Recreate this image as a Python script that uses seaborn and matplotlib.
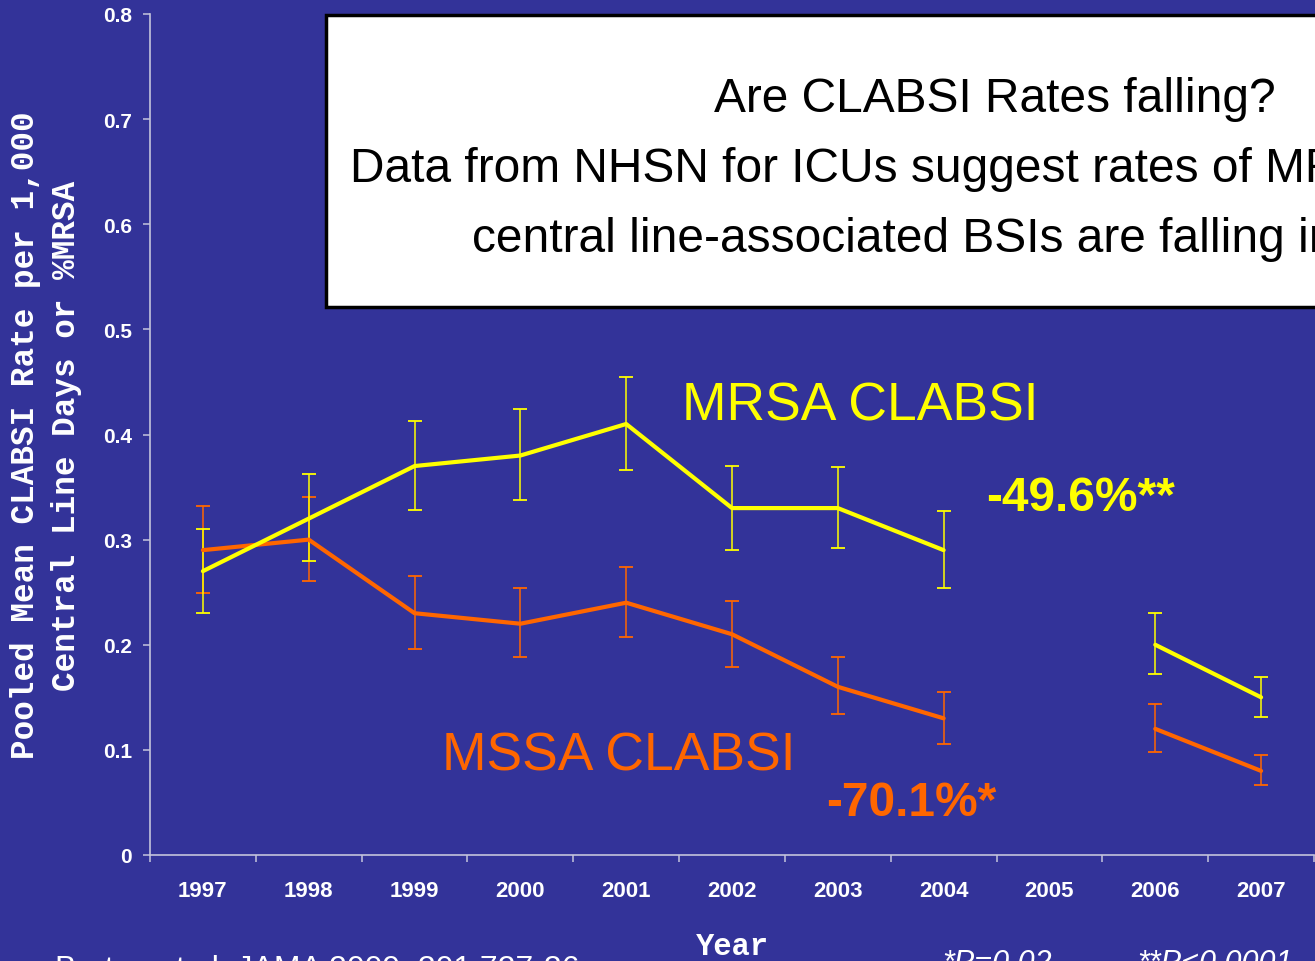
import numpy as np
import pandas as pd
import matplotlib
matplotlib.use("Agg")
import matplotlib.pyplot as plt
import seaborn as sns
from matplotlib.patches import Rectangle
from matplotlib.ticker import FixedLocator, FuncFormatter

# --- data ---
years = [1997, 1998, 1999, 2000, 2001, 2002, 2003, 2004, 2005, 2006, 2007]
mrsa = [0.27, 0.32, 0.37, 0.38, 0.41, 0.33, 0.33, 0.29, np.nan, 0.20, 0.15]
mrsa_lo = [0.230, 0.280, 0.328, 0.338, 0.366, 0.290, 0.292, 0.254, np.nan, 0.172, 0.131]
mrsa_hi = [0.310, 0.362, 0.413, 0.424, 0.455, 0.370, 0.369, 0.327, np.nan, 0.230, 0.169]
mssa = [0.29, 0.30, 0.23, 0.22, 0.24, 0.21, 0.16, 0.13, np.nan, 0.12, 0.08]
mssa_lo = [0.249, 0.261, 0.196, 0.188, 0.207, 0.179, 0.134, 0.106, np.nan, 0.098, 0.067]
mssa_hi = [0.332, 0.341, 0.265, 0.254, 0.274, 0.242, 0.188, 0.155, np.nan, 0.144, 0.095]
# 2005 missing -> two separate line pieces
segment = [0, 0, 0, 0, 0, 0, 0, 0, 0, 1, 1]

BG = "#333399"
YEL = "#FFFF00"
ORA = "#FF6600"
AXC = "#c4c4dc"
SANS = "Liberation Sans"
MONO = "Liberation Mono"

df = pd.concat([
    pd.DataFrame({"year": years, "rate": mssa, "series": "MSSA", "seg": segment}),
    pd.DataFrame({"year": years, "rate": mrsa, "series": "MRSA", "seg": segment}),
]).dropna()

sns.set_theme(style="ticks")
plt.rcParams["font.family"] = [SANS, "DejaVu Sans"]

fig = plt.figure(figsize=(13.15, 9.62), dpi=100, facecolor=BG)
ax = fig.add_axes([150 / 1315, 106 / 962, 1164 / 1315, 841 / 962])
ax.set_facecolor(BG)

sns.lineplot(data=df, x="year", y="rate", hue="series", units="seg",
             estimator=None, palette={"MSSA": ORA, "MRSA": YEL},
             hue_order=["MSSA", "MRSA"], linewidth=3, legend=False, ax=ax,
             zorder=3)

yr = np.array(years, dtype=float)
for vals, lo, hi, c in [(mssa, mssa_lo, mssa_hi, ORA), (mrsa, mrsa_lo, mrsa_hi, YEL)]:
    v = np.array(vals); l = np.array(lo); h = np.array(hi)
    ok = ~np.isnan(v)
    ax.errorbar(yr[ok], v[ok], yerr=[v[ok] - l[ok], h[ok] - v[ok]], fmt="none",
                ecolor=c, elinewidth=1.1, capsize=5, capthick=1.3, zorder=2)

ax.set_xlim(1996.5, 2007.5)
ax.set_ylim(0, 0.8)
ax.set_xticks(years)
ax.xaxis.set_minor_locator(FixedLocator(np.arange(1996.5, 2008, 1.0)))
ax.set_yticks(np.arange(0, 0.81, 0.1))
ax.yaxis.set_major_formatter(FuncFormatter(lambda v, p: "0" if abs(v) < 1e-9 else f"{v:.1f}"))

for s in ["top", "right"]:
    ax.spines[s].set_visible(False)
for s in ["left", "bottom"]:
    ax.spines[s].set_color(AXC)
    ax.spines[s].set_linewidth(1.2)

ax.tick_params(axis="x", which="major", length=0, pad=18, labelsize=16, labelcolor="white")
ax.tick_params(axis="x", which="minor", length=5, width=1.1, color=AXC, direction="out")
ax.tick_params(axis="y", length=5, width=1.1, color=AXC, direction="out", pad=8,
               labelsize=15, labelcolor="white")
for t in ax.get_xticklabels() + ax.get_yticklabels():
    t.set_fontweight("bold")

ax.set_xlabel("Year", fontfamily=MONO, fontweight="bold", fontsize=22, color="white")
ax.xaxis.label.set_va("baseline")
ax.xaxis.set_label_coords(0.5, (856 - 955) / 841)
ax.set_ylabel("Pooled Mean CLABSI Rate per 1,000\nCentral Line Days or %MRSA",
              fontfamily=MONO, fontweight="bold", fontsize=23.5, color="white",
              linespacing=1.4)
ax.yaxis.label.set_va("center")
ax.yaxis.set_label_coords((46 - 150) / 1164, 0.5)

# series labels and percent changes
ax.text(2001.53, 0.4147, "MRSA CLABSI", color=YEL, fontsize=38.5, ha="left", va="baseline")
ax.text(2004.40, 0.328, "-49.6%**", color=YEL, fontsize=34.5, fontweight="bold",
        ha="left", va="baseline")
ax.text(1999.26, 0.0809, "MSSA CLABSI", color=ORA, fontsize=38.5, ha="left", va="baseline")
ax.text(2002.89, 0.038, "-70.1%*", color=ORA, fontsize=34.5, fontweight="bold",
        ha="left", va="baseline")

# white caption box running off the right edge
fig.patches.append(Rectangle((326 / 1315, (962 - 308) / 962), 1.0, 292 / 962,
                             transform=fig.transFigure, facecolor="white",
                             edgecolor="black", linewidth=2.5, zorder=5))
fig.text(995 / 1315, (962 - 112) / 962, "Are CLABSI Rates falling?", fontsize=34.5,
         color="black", ha="center", va="baseline", zorder=6)
fig.text(350 / 1315, (962 - 182) / 962,
         "Data from NHSN for ICUs suggest rates of MRSA and MSSA", fontsize=34.5,
         color="black", ha="left", va="baseline", zorder=6)
fig.text(472 / 1315, (962 - 252) / 962,
         "central line-associated BSIs are falling in ICUs", fontsize=34.5,
         color="black", ha="left", va="baseline", zorder=6)

# footer, cut by the bottom edge as in the slide
fig.text(55 / 1315, (962 - 978) / 962, "Burton et al. JAMA 2009; 301:727-36",
         fontsize=23, color="white", ha="left", va="baseline")
fig.text(942 / 1315, (962 - 972) / 962, "*P=0.02", fontsize=22, style="italic",
         color="white", ha="left", va="baseline")
fig.text(1137 / 1315, (962 - 972) / 962, "**P<0.0001", fontsize=22, style="italic",
         color="white", ha="left", va="baseline")

fig.savefig("out.png", dpi=100, facecolor=BG)
